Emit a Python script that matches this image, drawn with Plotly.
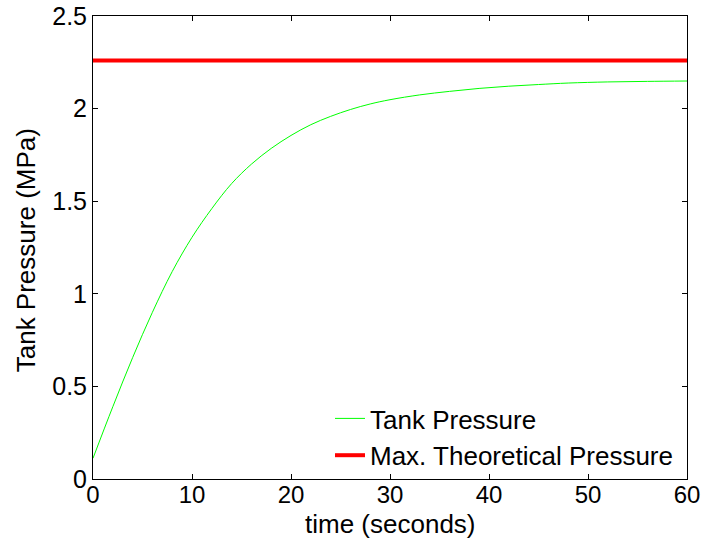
import plotly.graph_objects as go

time_s = [0, 2, 4, 6, 8, 10, 12, 14, 16, 18, 20, 22, 24, 26, 28, 30, 33, 36, 39, 42, 45, 48, 52, 56, 60]
tank_pressure = [0.112, 0.39, 0.655, 0.90, 1.12, 1.305, 1.46, 1.595, 1.70, 1.785, 1.855, 1.913, 1.958,
                 1.995, 2.025, 2.048, 2.074, 2.093, 2.109, 2.121, 2.130, 2.138, 2.144, 2.147, 2.149]
max_time = [0, 60]
max_pressure = [2.26, 2.26]

FONT = "Liberation Sans, Arial"

fig = go.Figure()
fig.add_trace(go.Scatter(x=time_s, y=tank_pressure, mode="lines", name="Tank Pressure",
                         legendgroup="a",
                         line=dict(color="#00ff00", width=1, shape="spline", smoothing=1)))
fig.add_trace(go.Scatter(x=max_time, y=max_pressure, mode="lines", name="Max. Theoretical Pressure",
                         legendgroup="b",
                         line=dict(color="#ff0000", width=4)))

axis_common = dict(showline=True, linecolor="black", linewidth=1, mirror="allticks",
                   ticks="inside", ticklen=5, tickcolor="black", showgrid=False, zeroline=False,
                   automargin=False)

fig.update_layout(
    template="none",
    width=704, height=547,
    margin=dict(l=93, r=17, t=16, b=68),
    plot_bgcolor="white", paper_bgcolor="white",
    font=dict(family=FONT, size=26, color="black"),
    xaxis=dict(range=[0, 60], tickvals=[0, 10, 20, 30, 40, 50, 60],
               ticklabelstandoff=-6, tickfont=dict(family=FONT, size=24, color="black"),
               **axis_common),
    yaxis=dict(range=[0, 2.5], tickvals=[0, 0.5, 1, 1.5, 2, 2.5],
               ticktext=["0", "0.5", "1", "1.5", "2", "2.5"],
               tickfont=dict(family=FONT, size=25, color="black"), **axis_common),
    legend=dict(x=0.399, y=0.0, xanchor="left", yanchor="bottom", bgcolor="rgba(255,255,255,0)",
                borderwidth=0, font=dict(size=26), tracegroupgap=0, traceorder="grouped"),
    annotations=[
        dict(text="time (seconds)", xref="paper", yref="paper", x=0.5, y=-0.098,
             xanchor="center", yanchor="middle", showarrow=False, font=dict(size=26)),
        dict(text="Tank Pressure (MPa)", xref="paper", yref="paper", x=-0.1128, y=0.494,
             xanchor="center", yanchor="middle", textangle=-90, showarrow=False, font=dict(size=26)),
    ],
)

fig.write_html("out.html")
